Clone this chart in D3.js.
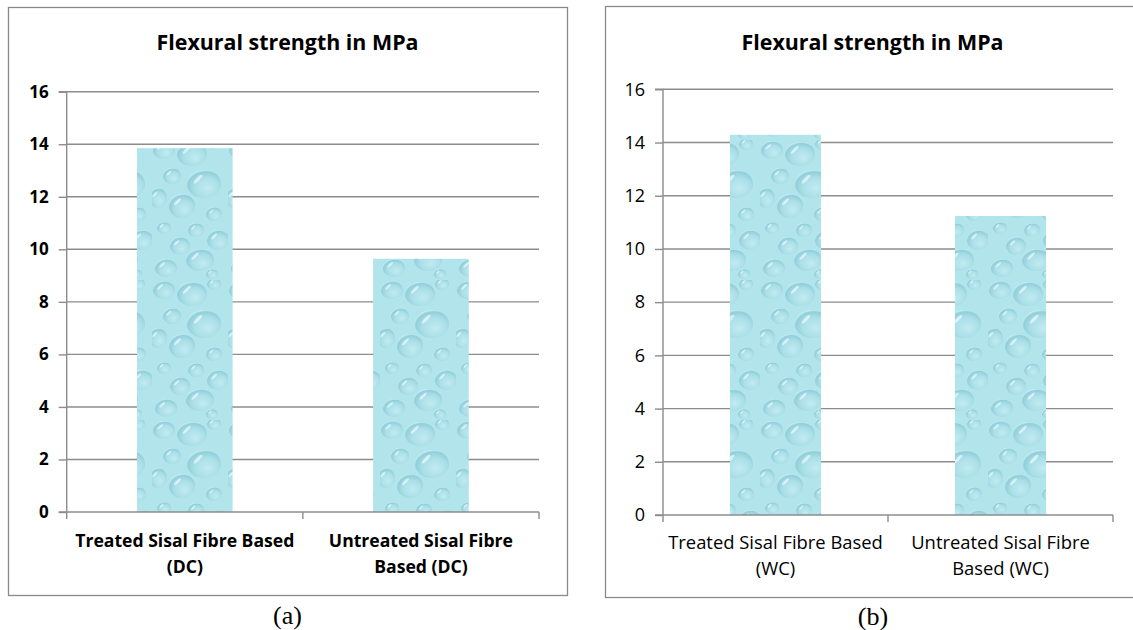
<!DOCTYPE html>
<html>
<head>
<meta charset="utf-8">
<script src="https://cdnjs.cloudflare.com/ajax/libs/d3/7.8.5/d3.min.js"></script>
<style>
  html, body { margin: 0; padding: 0; background: #ffffff; }
  svg { display: block; }
</style>
</head>
<body>
<svg id="fig" width="1133" height="630"></svg>
<script>
// ---- data ----
const chartTitle = "Flexural strength in MPa";
const categoriesDC = ["Treated Sisal Fibre Based\n(DC)", "Untreated Sisal Fibre\nBased (DC)"];
const valuesDC = [13.85, 9.64];
const categoriesWC = ["Treated Sisal Fibre Based\n(WC)", "Untreated Sisal Fibre\nBased (WC)"];
const valuesWC = [14.29, 11.24];
const yTicks = [0, 2, 4, 6, 8, 10, 12, 14, 16];
const panelCaptions = ["(a)", "(b)"];

// ---- layout ----
const panels = [
  { cats: categoriesDC, vals: valuesDC, caption: panelCaptions[0], bold: true,
    box: { x: 8, y: 7, w: 559, h: 588 },
    xr: [66.7, 539], yr: [512, 91.7], titleX: 287.5, titleY: 49.5,
    lab1: 546.7, lab2: 573, capX: 287.5, capY: 624 },
  { cats: categoriesWC, vals: valuesWC, caption: panelCaptions[1], bold: false,
    box: { x: 605, y: 6, w: 535, h: 591 },
    xr: [663, 1113], yr: [515, 89.3], titleX: 872.5, titleY: 50,
    lab1: 549, lab2: 575, capX: 873, capY: 625 }
];

const svg = d3.select("#fig");
const defs = svg.append("defs");

// water-drop texture used as the bar fill
const drops = [
  [12, 10, 11, 9], [40, 14, 15, 12], [62, 4, 7, 6], [20, 36, 9, 8], [52, 44, 17, 14],
  [6, 58, 9, 10], [30, 66, 13, 12], [62, 74, 8, 7], [44, 90, 8, 7], [12, 88, 7, 6],
  [66, 100, 11, 10], [28, 106, 10, 9], [48, 120, 14, 11], [14, 128, 11, 9], [60, 134, 6, 5]
];
const dropGrad = defs.append("radialGradient").attr("id", "dropGrad")
  .attr("cx", "55%").attr("cy", "60%").attr("r", "60%").attr("fx", "62%").attr("fy", "66%");
dropGrad.append("stop").attr("offset", "0%").attr("stop-color", "#c4ecf2");
dropGrad.append("stop").attr("offset", "60%").attr("stop-color", "#a9dee7");
dropGrad.append("stop").attr("offset", "90%").attr("stop-color", "#8bcbd7");
dropGrad.append("stop").attr("offset", "100%").attr("stop-color", "#cdeff4");

const pat = defs.append("pattern").attr("id", "waterDrops")
  .attr("patternUnits", "userSpaceOnUse").attr("width", 76).attr("height", 140);
pat.append("rect").attr("width", 76).attr("height", 140).attr("fill", "#b2e4ec");
pat.selectAll("ellipse.drop").data(drops).enter().append("ellipse")
  .attr("class", "drop")
  .attr("cx", d => d[0]).attr("cy", d => d[1]).attr("rx", d => d[2]).attr("ry", d => d[3])
  .attr("fill", "url(#dropGrad)").attr("opacity", 0.85);
pat.selectAll("ellipse.hl").data(drops).enter().append("ellipse")
  .attr("class", "hl")
  .attr("cx", d => d[0] - d[2] * 0.35).attr("cy", d => d[1] - d[3] * 0.35)
  .attr("rx", d => Math.max(1.5, d[2] * 0.35)).attr("ry", d => Math.max(0.8, d[3] * 0.12))
  .attr("transform", d => `rotate(-45 ${d[0] - d[2] * 0.35} ${d[1] - d[3] * 0.35})`)
  .attr("fill", "#e6f8fa").attr("opacity", 0.75);

const gridColor = "#8c8c8c";
const fontSans = "'Open Sans', Lato, sans-serif";

panels.forEach(p => {
  const g = svg.append("g");

  // chart area border
  g.append("rect")
    .attr("x", p.box.x + 0.5).attr("y", p.box.y + 0.5)
    .attr("width", p.box.w).attr("height", p.box.h)
    .attr("fill", "#ffffff").attr("stroke", "#8a8a8a").attr("stroke-width", 1.3);

  const y = d3.scaleLinear().domain([0, 16]).range(p.yr);
  const cat = d3.scaleBand().domain(p.cats).range(p.xr).padding(0);
  const xBar = d3.scaleBand().domain(p.cats).range(p.xr).paddingInner(0.595).paddingOuter(0.2975);

  // horizontal gridlines
  g.append("g").selectAll("line").data(yTicks.filter(t => t > 0)).enter().append("line")
    .attr("x1", p.xr[0]).attr("x2", p.xr[1])
    .attr("y1", d => y(d)).attr("y2", d => y(d))
    .attr("stroke", gridColor).attr("stroke-width", 1.4);

  // bars
  g.append("g").selectAll("rect").data(p.vals).enter().append("rect")
    .attr("x", (d, i) => xBar(p.cats[i]))
    .attr("width", xBar.bandwidth())
    .attr("y", d => y(d))
    .attr("height", d => y(0) - y(d))
    .attr("fill", "url(#waterDrops)");

  // y axis
  const yAxis = d3.axisLeft(y).tickValues(yTicks).tickSize(8).tickPadding(10)
    .tickFormat(d3.format("d"));
  const ya = g.append("g").attr("transform", `translate(${p.xr[0]},0)`).call(yAxis);
  ya.select(".domain").attr("stroke", gridColor).attr("stroke-width", 1.4)
    .attr("d", `M-8,${p.yr[1]}H0V${p.yr[0]}`);
  ya.selectAll(".tick line").attr("stroke", gridColor).attr("stroke-width", 1.4);
  ya.selectAll(".tick text")
    .attr("font-family", fontSans).attr("font-size", p.bold ? 17 : 18)
    .attr("font-weight", p.bold ? 700 : 400).attr("fill", "#000");

  // x axis: baseline with tick marks between categories
  const xa = g.append("g");
  xa.append("line").attr("x1", p.xr[0] - 8).attr("x2", p.xr[1])
    .attr("y1", y(0)).attr("y2", y(0))
    .attr("stroke", gridColor).attr("stroke-width", 1.4);
  const bounds = p.cats.map(c => cat(c)).concat([p.xr[1]]);
  xa.selectAll("line.tk").data(bounds).enter().append("line").attr("class", "tk")
    .attr("x1", d => d).attr("x2", d => d)
    .attr("y1", y(0)).attr("y2", y(0) + 7)
    .attr("stroke", gridColor).attr("stroke-width", 1.4);

  // category labels (two lines each)
  p.cats.forEach(c => {
    const lines = c.split("\n");
    const t = xa.append("text")
      .attr("text-anchor", "middle")
      .attr("font-family", fontSans).attr("font-size", p.bold ? 17.6 : 18.4)
      .attr("font-weight", p.bold ? 700 : 400).attr("fill", "#000");
    lines.forEach((ln, k) => {
      t.append("tspan").attr("x", cat(c) + cat.bandwidth() / 2)
        .attr("y", k === 0 ? p.lab1 : p.lab2).text(ln);
    });
  });

  // title
  g.append("text").attr("x", p.titleX).attr("y", p.titleY)
    .attr("text-anchor", "middle")
    .attr("font-family", fontSans).attr("font-size", 21.4).attr("font-weight", 700)
    .attr("fill", "#000").text(chartTitle);

  // panel caption
  svg.append("text").attr("x", p.capX).attr("y", p.capY)
    .attr("text-anchor", "middle")
    .attr("font-family", "'Liberation Serif', 'Times New Roman', serif").attr("font-size", 26)
    .attr("fill", "#000").text(p.caption);
});
</script>
</body>
</html>
